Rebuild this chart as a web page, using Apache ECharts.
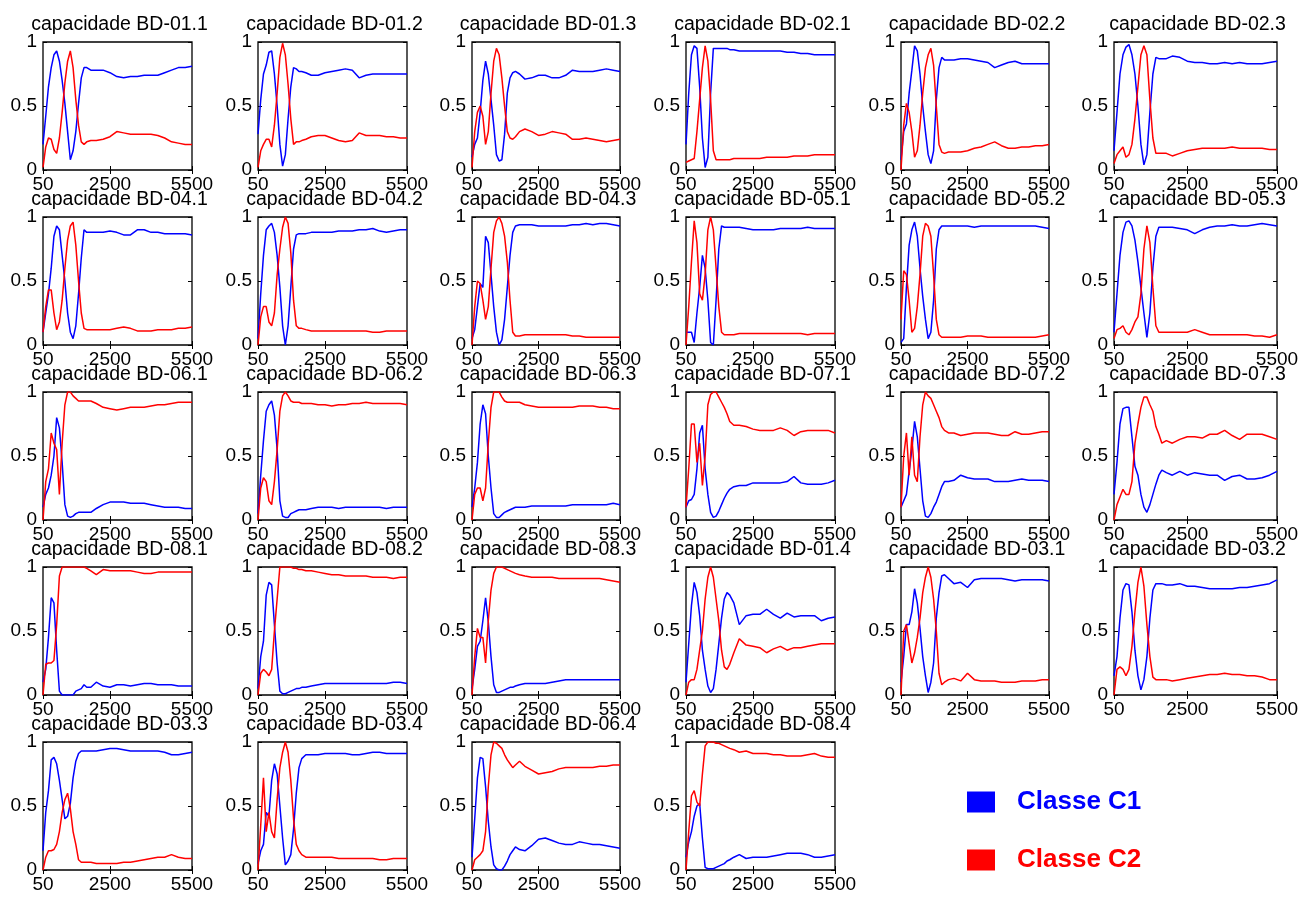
<!DOCTYPE html>
<html><head><meta charset="utf-8">
<script src="https://cdn.jsdelivr.net/npm/echarts@6/dist/echarts.min.js"></script>
<style>html,body{margin:0;padding:0;background:#fff}#c{width:1311px;height:903px}</style>
</head><body><div id="c"></div>
<script>
// ---- data ----
const X = [50,150,250,350,450,550,650,750,850,950,1050,1150,1250,1350,1450,1550,1650,1800,2000,2250,2500,2750,3000,3250,3500,3750,4000,4250,4500,4750,5000,5250,5500];
const X_TICKS = [50, 2500, 5500];
const Y_TICKS = [0, 0.5, 1];
const LEGEND_NAMES = ['Classe C1', 'Classe C2'];

const c1_01_1 = [0.2,0.42,0.65,0.8,0.9,0.93,0.85,0.7,0.52,0.3,0.08,0.15,0.3,0.52,0.72,0.8,0.8,0.78,0.78,0.78,0.76,0.73,0.72,0.73,0.73,0.74,0.74,0.74,0.76,0.78,0.8,0.8,0.81];
const c2_01_1 = [0.02,0.18,0.25,0.24,0.16,0.13,0.25,0.45,0.68,0.85,0.93,0.8,0.55,0.35,0.22,0.2,0.22,0.23,0.23,0.24,0.26,0.3,0.29,0.28,0.28,0.28,0.28,0.27,0.25,0.22,0.21,0.2,0.2];
const c1_01_2 = [0.28,0.55,0.75,0.82,0.92,0.93,0.75,0.5,0.2,0.03,0.12,0.4,0.65,0.8,0.79,0.77,0.77,0.76,0.74,0.74,0.76,0.77,0.78,0.79,0.78,0.72,0.74,0.75,0.75,0.75,0.75,0.75,0.75];
const c2_01_2 = [0.02,0.15,0.2,0.24,0.24,0.18,0.35,0.6,0.88,0.99,0.9,0.67,0.4,0.2,0.22,0.22,0.23,0.24,0.26,0.27,0.27,0.25,0.23,0.22,0.23,0.29,0.27,0.27,0.27,0.26,0.26,0.25,0.25];
const c1_01_3 = [0.1,0.2,0.25,0.45,0.7,0.85,0.75,0.55,0.35,0.12,0.07,0.08,0.28,0.6,0.72,0.76,0.77,0.75,0.71,0.72,0.74,0.74,0.72,0.72,0.74,0.78,0.77,0.77,0.77,0.78,0.79,0.78,0.77];
const c2_01_3 = [0.02,0.3,0.45,0.5,0.42,0.2,0.3,0.6,0.85,0.95,0.9,0.72,0.5,0.3,0.25,0.24,0.26,0.3,0.32,0.3,0.27,0.28,0.3,0.29,0.28,0.24,0.24,0.25,0.24,0.23,0.22,0.23,0.24];
const c1_02_1 = [0.2,0.6,0.9,0.97,0.95,0.65,0.25,0.02,0.1,0.6,0.95,0.95,0.95,0.95,0.95,0.95,0.94,0.94,0.93,0.93,0.93,0.93,0.93,0.93,0.93,0.92,0.92,0.91,0.91,0.9,0.9,0.9,0.9];
const c2_02_1 = [0.06,0.07,0.08,0.09,0.3,0.55,0.8,0.97,0.85,0.55,0.15,0.08,0.08,0.08,0.08,0.08,0.08,0.09,0.09,0.09,0.09,0.09,0.1,0.1,0.1,0.1,0.11,0.11,0.11,0.12,0.12,0.12,0.12];
const c1_02_2 = [0.08,0.3,0.36,0.6,0.78,0.97,0.93,0.75,0.5,0.3,0.12,0.05,0.15,0.55,0.8,0.88,0.86,0.86,0.86,0.87,0.87,0.86,0.85,0.84,0.8,0.82,0.84,0.85,0.83,0.83,0.83,0.83,0.83];
const c2_02_2 = [0.0,0.35,0.52,0.45,0.3,0.1,0.15,0.35,0.6,0.8,0.9,0.95,0.82,0.5,0.2,0.14,0.13,0.14,0.14,0.14,0.15,0.17,0.18,0.2,0.22,0.19,0.17,0.17,0.18,0.18,0.19,0.19,0.2];
const c1_02_3 = [0.15,0.45,0.75,0.9,0.96,0.98,0.9,0.75,0.5,0.2,0.04,0.12,0.45,0.75,0.88,0.87,0.87,0.87,0.89,0.88,0.85,0.84,0.84,0.83,0.83,0.84,0.83,0.84,0.83,0.83,0.83,0.84,0.85];
const c2_02_3 = [0.05,0.12,0.15,0.18,0.1,0.12,0.2,0.4,0.65,0.9,0.97,0.9,0.55,0.25,0.13,0.13,0.13,0.13,0.11,0.13,0.15,0.16,0.17,0.17,0.17,0.17,0.18,0.17,0.17,0.17,0.17,0.16,0.16];

const c1_04_1 = [0.1,0.25,0.4,0.6,0.85,0.93,0.9,0.7,0.5,0.25,0.1,0.05,0.15,0.4,0.68,0.9,0.88,0.88,0.88,0.88,0.89,0.88,0.86,0.86,0.9,0.9,0.88,0.88,0.87,0.87,0.87,0.87,0.86];
const c2_04_1 = [0.1,0.3,0.43,0.43,0.25,0.12,0.18,0.35,0.6,0.82,0.93,0.96,0.78,0.5,0.25,0.13,0.12,0.12,0.12,0.12,0.12,0.13,0.14,0.13,0.11,0.11,0.11,0.12,0.12,0.12,0.13,0.13,0.14];
const c1_04_2 = [0.05,0.4,0.7,0.9,0.93,0.95,0.88,0.7,0.45,0.15,0.0,0.15,0.45,0.75,0.86,0.87,0.87,0.87,0.88,0.88,0.88,0.88,0.89,0.89,0.89,0.9,0.9,0.91,0.89,0.88,0.89,0.9,0.9];
const c2_04_2 = [0.0,0.22,0.3,0.3,0.18,0.15,0.25,0.55,0.75,0.92,1.0,0.95,0.72,0.35,0.15,0.13,0.13,0.12,0.11,0.11,0.11,0.11,0.11,0.11,0.11,0.11,0.11,0.1,0.1,0.11,0.11,0.11,0.11];
const c1_04_3 = [0.05,0.12,0.3,0.48,0.45,0.85,0.8,0.55,0.3,0.1,0.0,0.04,0.2,0.45,0.7,0.88,0.93,0.94,0.94,0.94,0.93,0.93,0.93,0.93,0.93,0.94,0.94,0.95,0.94,0.95,0.95,0.94,0.93];
const c2_04_3 = [0.0,0.3,0.5,0.48,0.35,0.2,0.3,0.6,0.88,0.97,1.0,0.95,0.85,0.65,0.35,0.1,0.07,0.07,0.08,0.08,0.08,0.08,0.08,0.08,0.08,0.07,0.07,0.06,0.06,0.06,0.06,0.06,0.06];
const c1_05_1 = [0.1,0.1,0.1,0.02,0.25,0.45,0.7,0.6,0.35,0.02,0.0,0.35,0.75,0.93,0.92,0.92,0.92,0.92,0.92,0.91,0.9,0.9,0.9,0.9,0.91,0.91,0.91,0.91,0.92,0.91,0.91,0.91,0.91];
const c2_05_1 = [0.0,0.3,0.65,0.97,0.8,0.4,0.35,0.55,0.9,1.0,0.9,0.6,0.3,0.1,0.08,0.08,0.08,0.08,0.09,0.09,0.09,0.09,0.09,0.09,0.09,0.09,0.09,0.09,0.08,0.09,0.09,0.09,0.09];
const c1_05_2 = [0.02,0.05,0.45,0.78,0.9,0.96,0.85,0.6,0.38,0.2,0.05,0.1,0.35,0.75,0.9,0.93,0.93,0.93,0.93,0.93,0.93,0.92,0.93,0.93,0.93,0.93,0.93,0.93,0.93,0.93,0.93,0.92,0.91];
const c2_05_2 = [0.2,0.58,0.55,0.35,0.1,0.13,0.3,0.55,0.85,0.95,0.93,0.85,0.55,0.2,0.08,0.06,0.06,0.06,0.06,0.06,0.07,0.07,0.07,0.06,0.06,0.06,0.06,0.06,0.06,0.06,0.06,0.07,0.08];
const c1_05_3 = [0.1,0.4,0.7,0.88,0.96,0.97,0.93,0.82,0.65,0.45,0.25,0.06,0.25,0.6,0.85,0.92,0.92,0.92,0.92,0.91,0.9,0.87,0.9,0.92,0.93,0.93,0.94,0.93,0.93,0.94,0.95,0.94,0.93];
const c2_05_3 = [0.05,0.12,0.13,0.15,0.1,0.08,0.12,0.18,0.22,0.4,0.75,0.93,0.8,0.45,0.15,0.1,0.1,0.1,0.1,0.1,0.1,0.12,0.1,0.08,0.08,0.08,0.08,0.08,0.08,0.07,0.07,0.06,0.08];

const c1_06_1 = [0.1,0.2,0.25,0.35,0.5,0.8,0.72,0.45,0.12,0.03,0.02,0.03,0.05,0.06,0.06,0.06,0.06,0.06,0.09,0.12,0.14,0.14,0.14,0.13,0.13,0.13,0.12,0.11,0.1,0.1,0.1,0.09,0.09];
const c2_06_1 = [0.0,0.3,0.4,0.68,0.6,0.55,0.2,0.6,0.9,1.0,1.0,0.97,0.95,0.93,0.93,0.93,0.93,0.93,0.91,0.88,0.87,0.86,0.87,0.88,0.88,0.88,0.89,0.9,0.9,0.91,0.92,0.92,0.92];
const c1_06_2 = [0.05,0.35,0.62,0.85,0.9,0.93,0.82,0.55,0.15,0.03,0.02,0.02,0.05,0.06,0.07,0.08,0.08,0.08,0.09,0.1,0.1,0.1,0.09,0.1,0.1,0.1,0.1,0.1,0.1,0.09,0.1,0.1,0.1];
const c2_06_2 = [0.0,0.25,0.33,0.3,0.15,0.12,0.3,0.55,0.85,0.97,1.0,0.97,0.93,0.92,0.92,0.92,0.91,0.91,0.91,0.9,0.9,0.89,0.9,0.9,0.91,0.91,0.92,0.91,0.91,0.91,0.91,0.91,0.9];
const c1_06_3 = [0.1,0.25,0.45,0.75,0.9,0.83,0.5,0.25,0.05,0.02,0.02,0.04,0.06,0.07,0.08,0.09,0.1,0.1,0.1,0.11,0.11,0.11,0.11,0.11,0.11,0.12,0.12,0.12,0.12,0.12,0.12,0.13,0.12];
const c2_06_3 = [0.0,0.2,0.25,0.25,0.15,0.25,0.6,0.88,1.0,1.0,1.0,0.96,0.93,0.92,0.92,0.92,0.92,0.92,0.9,0.89,0.88,0.88,0.88,0.88,0.88,0.88,0.89,0.89,0.89,0.88,0.88,0.87,0.87];
const c1_07_1 = [0.1,0.15,0.16,0.2,0.4,0.68,0.74,0.4,0.2,0.06,0.02,0.03,0.07,0.12,0.17,0.21,0.24,0.26,0.27,0.27,0.29,0.29,0.29,0.29,0.29,0.3,0.34,0.29,0.28,0.28,0.28,0.29,0.31];
const c2_07_1 = [0.1,0.4,0.75,0.75,0.45,0.6,0.27,0.5,0.9,0.98,1.0,1.0,0.96,0.92,0.88,0.83,0.77,0.74,0.74,0.73,0.71,0.7,0.7,0.7,0.72,0.7,0.66,0.69,0.7,0.7,0.7,0.7,0.68];
const c1_07_2 = [0.1,0.15,0.2,0.38,0.55,0.77,0.65,0.4,0.15,0.03,0.02,0.05,0.1,0.14,0.2,0.26,0.3,0.3,0.31,0.35,0.33,0.32,0.32,0.32,0.3,0.3,0.3,0.31,0.32,0.31,0.31,0.31,0.3];
const c2_07_2 = [0.1,0.5,0.68,0.35,0.65,0.35,0.3,0.65,0.9,1.0,0.97,0.95,0.9,0.85,0.8,0.73,0.7,0.68,0.68,0.66,0.67,0.68,0.68,0.68,0.67,0.66,0.66,0.69,0.67,0.67,0.68,0.69,0.69];
const c1_07_3 = [0.2,0.45,0.75,0.87,0.88,0.88,0.65,0.42,0.35,0.2,0.1,0.06,0.12,0.2,0.28,0.35,0.39,0.37,0.35,0.38,0.35,0.37,0.36,0.35,0.35,0.31,0.34,0.35,0.32,0.32,0.33,0.35,0.38];
const c2_07_3 = [0.0,0.12,0.18,0.24,0.2,0.2,0.3,0.6,0.75,0.88,0.96,0.96,0.9,0.85,0.73,0.67,0.6,0.62,0.6,0.63,0.65,0.65,0.64,0.67,0.67,0.7,0.66,0.63,0.67,0.67,0.67,0.65,0.63];

const c1_08_1 = [0.1,0.2,0.45,0.76,0.72,0.35,0.03,0.0,0.0,0.0,0.0,0.0,0.03,0.04,0.05,0.08,0.06,0.06,0.1,0.07,0.06,0.08,0.08,0.07,0.08,0.09,0.09,0.08,0.08,0.08,0.07,0.07,0.07];
const c2_08_1 = [0.0,0.24,0.25,0.25,0.27,0.55,0.93,1.0,1.0,1.0,1.0,1.0,1.0,1.0,1.0,1.0,0.99,0.97,0.94,0.98,0.97,0.97,0.97,0.97,0.96,0.95,0.95,0.96,0.96,0.96,0.96,0.96,0.96];
const c1_08_2 = [0.05,0.3,0.42,0.78,0.88,0.86,0.55,0.25,0.03,0.01,0.01,0.02,0.03,0.04,0.05,0.05,0.06,0.06,0.07,0.08,0.09,0.09,0.09,0.09,0.09,0.09,0.09,0.09,0.09,0.09,0.1,0.1,0.09];
const c2_08_2 = [0.0,0.17,0.2,0.18,0.15,0.2,0.5,0.75,1.0,1.0,1.0,1.0,1.0,0.99,0.99,0.98,0.98,0.97,0.97,0.96,0.95,0.94,0.94,0.93,0.93,0.93,0.93,0.92,0.92,0.92,0.91,0.92,0.92];
const c1_08_3 = [0.05,0.2,0.38,0.42,0.58,0.76,0.57,0.3,0.08,0.02,0.02,0.03,0.04,0.05,0.06,0.06,0.07,0.08,0.09,0.09,0.09,0.09,0.1,0.11,0.12,0.12,0.12,0.12,0.12,0.12,0.12,0.12,0.12];
const c2_08_3 = [0.0,0.3,0.52,0.45,0.45,0.25,0.58,0.82,0.95,1.0,1.0,1.0,0.99,0.98,0.97,0.96,0.95,0.94,0.93,0.92,0.92,0.92,0.92,0.91,0.91,0.91,0.91,0.91,0.91,0.91,0.9,0.89,0.88];
const c1_01_4 = [0.1,0.4,0.7,0.88,0.8,0.62,0.35,0.2,0.07,0.02,0.05,0.2,0.4,0.6,0.75,0.8,0.78,0.72,0.55,0.62,0.63,0.63,0.67,0.63,0.6,0.64,0.61,0.62,0.62,0.62,0.58,0.6,0.61];
const c2_01_4 = [0.0,0.1,0.12,0.12,0.2,0.35,0.5,0.75,0.92,1.0,0.92,0.75,0.58,0.35,0.22,0.2,0.24,0.33,0.44,0.39,0.38,0.37,0.33,0.36,0.38,0.35,0.37,0.37,0.38,0.39,0.4,0.4,0.4];
const c1_03_1 = [0.1,0.3,0.55,0.55,0.65,0.83,0.72,0.52,0.3,0.15,0.02,0.1,0.25,0.6,0.8,0.93,0.94,0.91,0.87,0.88,0.84,0.9,0.91,0.91,0.91,0.91,0.9,0.89,0.9,0.9,0.9,0.9,0.89];
const c2_03_1 = [0.0,0.5,0.55,0.4,0.25,0.33,0.45,0.6,0.8,0.92,1.0,0.92,0.75,0.5,0.17,0.08,0.1,0.12,0.13,0.11,0.17,0.12,0.11,0.11,0.11,0.1,0.1,0.1,0.11,0.11,0.11,0.12,0.12];
const c1_03_2 = [0.15,0.3,0.6,0.82,0.87,0.86,0.65,0.35,0.15,0.04,0.12,0.3,0.6,0.82,0.87,0.87,0.87,0.86,0.86,0.87,0.85,0.85,0.84,0.83,0.83,0.83,0.83,0.84,0.84,0.85,0.86,0.87,0.9];
const c2_03_2 = [0.0,0.2,0.22,0.2,0.15,0.2,0.38,0.65,0.88,1.0,0.85,0.55,0.3,0.14,0.12,0.12,0.12,0.12,0.11,0.12,0.13,0.14,0.15,0.16,0.16,0.17,0.16,0.16,0.15,0.15,0.14,0.12,0.12];

const c1_03_3 = [0.15,0.45,0.62,0.86,0.88,0.83,0.7,0.55,0.4,0.42,0.52,0.72,0.85,0.91,0.93,0.93,0.93,0.93,0.93,0.94,0.95,0.95,0.94,0.93,0.93,0.93,0.93,0.93,0.92,0.9,0.9,0.91,0.92];
const c2_03_3 = [0.0,0.1,0.15,0.15,0.16,0.2,0.3,0.45,0.55,0.6,0.48,0.3,0.2,0.08,0.06,0.06,0.06,0.06,0.05,0.05,0.05,0.05,0.06,0.06,0.07,0.08,0.09,0.1,0.1,0.12,0.1,0.09,0.09];
const c1_03_4 = [0.05,0.15,0.2,0.45,0.42,0.7,0.83,0.75,0.5,0.25,0.04,0.07,0.12,0.32,0.6,0.8,0.87,0.9,0.9,0.9,0.91,0.91,0.91,0.91,0.9,0.9,0.91,0.92,0.92,0.91,0.91,0.91,0.91];
const c2_03_4 = [0.0,0.35,0.72,0.3,0.45,0.3,0.25,0.55,0.8,0.92,1.0,0.92,0.7,0.4,0.2,0.15,0.12,0.1,0.1,0.1,0.1,0.1,0.09,0.09,0.09,0.09,0.09,0.09,0.08,0.08,0.09,0.09,0.09];
const c1_06_4 = [0.1,0.4,0.72,0.88,0.87,0.65,0.38,0.18,0.04,0.01,0.0,0.0,0.03,0.07,0.12,0.15,0.18,0.16,0.15,0.19,0.24,0.25,0.23,0.21,0.2,0.2,0.22,0.21,0.2,0.2,0.19,0.18,0.17];
const c2_06_4 = [0.0,0.08,0.1,0.12,0.15,0.3,0.65,0.9,1.0,0.99,0.97,0.95,0.9,0.86,0.83,0.8,0.82,0.85,0.81,0.78,0.75,0.76,0.77,0.79,0.8,0.8,0.8,0.8,0.8,0.81,0.81,0.82,0.82];
const c1_08_4 = [0.1,0.22,0.3,0.42,0.5,0.52,0.25,0.02,0.01,0.01,0.01,0.02,0.03,0.04,0.05,0.07,0.08,0.1,0.12,0.09,0.1,0.1,0.1,0.11,0.12,0.13,0.13,0.13,0.12,0.1,0.1,0.11,0.12];
const c2_08_4 = [0.0,0.3,0.58,0.62,0.53,0.5,0.75,0.97,1.0,1.0,1.0,0.99,0.99,0.98,0.97,0.96,0.95,0.94,0.92,0.93,0.91,0.91,0.91,0.9,0.9,0.89,0.89,0.89,0.9,0.91,0.89,0.88,0.88];

const PANELS = [
  ['BD-01.1', c1_01_1, c2_01_1], ['BD-01.2', c1_01_2, c2_01_2], ['BD-01.3', c1_01_3, c2_01_3],
  ['BD-02.1', c1_02_1, c2_02_1], ['BD-02.2', c1_02_2, c2_02_2], ['BD-02.3', c1_02_3, c2_02_3],
  ['BD-04.1', c1_04_1, c2_04_1], ['BD-04.2', c1_04_2, c2_04_2], ['BD-04.3', c1_04_3, c2_04_3],
  ['BD-05.1', c1_05_1, c2_05_1], ['BD-05.2', c1_05_2, c2_05_2], ['BD-05.3', c1_05_3, c2_05_3],
  ['BD-06.1', c1_06_1, c2_06_1], ['BD-06.2', c1_06_2, c2_06_2], ['BD-06.3', c1_06_3, c2_06_3],
  ['BD-07.1', c1_07_1, c2_07_1], ['BD-07.2', c1_07_2, c2_07_2], ['BD-07.3', c1_07_3, c2_07_3],
  ['BD-08.1', c1_08_1, c2_08_1], ['BD-08.2', c1_08_2, c2_08_2], ['BD-08.3', c1_08_3, c2_08_3],
  ['BD-01.4', c1_01_4, c2_01_4], ['BD-03.1', c1_03_1, c2_03_1], ['BD-03.2', c1_03_2, c2_03_2],
  ['BD-03.3', c1_03_3, c2_03_3], ['BD-03.4', c1_03_4, c2_03_4], ['BD-06.4', c1_06_4, c2_06_4],
  ['BD-08.4', c1_08_4, c2_08_4]
];

// ---- layout / style ----
const COL_L = [43, 258, 472, 686, 901, 1114];
const COL_W = [149, 149, 148, 149, 148, 163];
const ROW_T = [42, 217, 392, 567, 742];
const PLOT_H = 128;
const FONT = '"Liberation Sans", Arial, Helvetica, sans-serif';
const BLUE = '#0000ff', RED = '#ff0000';

const grid = [], xAxis = [], yAxis = [], series = [], title = [];
const tickStyle = {show: true, inside: true, length: 4, lineStyle: {color: '#000', width: 1}};
const plain = v => String(v);
PANELS.forEach((p, i) => {
  const r = Math.floor(i / 6), c = i % 6;
  const left = COL_L[c], width = COL_W[c], top = ROW_T[r];
  grid.push({left: left, top: top, width: width, height: PLOT_H, show: true,
    borderColor: '#000', borderWidth: 1.3, backgroundColor: '#fff'});
  title.push({text: 'capacidade ' + p[0], left: left + width / 2 - 3, top: top - 32, textAlign: 'center',
    textStyle: {fontSize: 19.5, fontWeight: 'normal', color: '#000', fontFamily: FONT}});
  xAxis.push({gridIndex: i, type: 'value', min: X[0], max: X[X.length - 1], position: 'bottom',
    axisLine: {show: false}, splitLine: {show: false},
    axisTick: Object.assign({customValues: X_TICKS}, tickStyle),
    axisLabel: {customValues: X_TICKS, formatter: plain, color: '#000', fontSize: 19, fontFamily: FONT, margin: 5}});
  xAxis.push({gridIndex: i, type: 'value', min: X[0], max: X[X.length - 1], position: 'top',
    axisLine: {show: false}, splitLine: {show: false},
    axisTick: Object.assign({customValues: X_TICKS}, tickStyle), axisLabel: {show: false}});
  yAxis.push({gridIndex: i, type: 'value', min: 0, max: 1, position: 'left',
    axisLine: {show: false}, splitLine: {show: false},
    axisTick: Object.assign({customValues: Y_TICKS}, tickStyle),
    axisLabel: {customValues: Y_TICKS, formatter: plain, color: '#000', fontSize: 19, fontFamily: FONT, margin: 6}});
  yAxis.push({gridIndex: i, type: 'value', min: 0, max: 1, position: 'right',
    axisLine: {show: false}, splitLine: {show: false},
    axisTick: Object.assign({customValues: Y_TICKS}, tickStyle), axisLabel: {show: false}});
  [[p[1], BLUE, LEGEND_NAMES[0]], [p[2], RED, LEGEND_NAMES[1]]].forEach(s => {
    series.push({name: s[2], type: 'line', xAxisIndex: 2 * i, yAxisIndex: 2 * i,
      data: X.map((x, k) => [x, s[0][k]]), symbol: 'none', showSymbol: false,
      lineStyle: {color: s[1], width: 1.5}, itemStyle: {color: s[1]}, color: s[1],
      silent: true, animation: false});
  });
});

const chart = echarts.init(document.getElementById('c'), null, {renderer: 'canvas'});
chart.setOption({
  animation: false,
  backgroundColor: '#fff',
  title: title,
  grid: grid,
  xAxis: xAxis,
  yAxis: yAxis,
  legend: {
    data: [{name: LEGEND_NAMES[0], textStyle: {color: BLUE}}, {name: LEGEND_NAMES[1], textStyle: {color: RED}}],
    orient: 'vertical', left: 967, top: 789, padding: 0, icon: 'rect', itemWidth: 28, itemHeight: 21, itemGap: 32,
    selectedMode: false,
    textStyle: {fontSize: 26, fontWeight: 'bold', fontFamily: FONT, padding: [0, 0, 0, 17]}
  },
  series: series
});
</script>
</body></html>
